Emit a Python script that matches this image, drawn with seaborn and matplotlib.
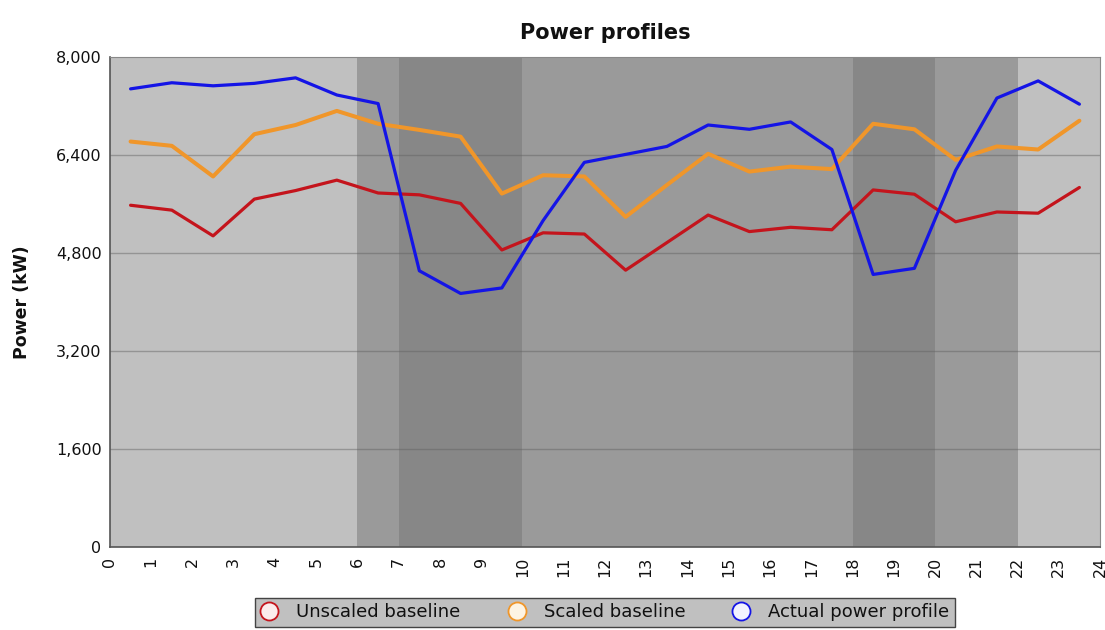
import pandas as pd
import numpy as np
import seaborn as sns
import matplotlib.pyplot as plt
from matplotlib.lines import Line2D

# -------------------------------
#  Datos
# -------------------------------
hours = [h + 0.5 for h in range(24)]

unscaled = [5580, 5500, 5080, 5680, 5820, 5990, 5780, 5750, 5610, 4850, 5130, 5110,
            4520, 4970, 5420, 5150, 5220, 5180, 5830, 5760, 5310, 5470, 5450, 5870]
scaled = [6620, 6550, 6050, 6740, 6890, 7120, 6910, 6810, 6700, 5770, 6070, 6050,
          5390, 5910, 6420, 6130, 6210, 6170, 6910, 6820, 6320, 6540, 6490, 6960]
actual = [7480, 7580, 7530, 7570, 7660, 7380, 7240, 4510, 4140, 4230, 5330, 6280,
          6410, 6540, 6890, 6820, 6940, 6490, 4450, 4550, 6150, 7330, 7610, 7230]

series_names = ["Unscaled baseline", "Scaled baseline", "Actual power profile"]
series_colors = ["#c4141c", "#f0962a", "#1414e6"]
marker_faces = ["#fbecec", "#fdf4e4", "#f2f2ff"]

# franjas de fondo: (inicio, fin, color)
band_edges = [0, 6, 7, 10, 18, 20, 22, 24]
band_colors = ["#c0c0c0", "#9a9a9a", "#878787", "#9a9a9a", "#878787", "#9a9a9a", "#c0c0c0"]

y_ticks = [0, 1600, 3200, 4800, 6400, 8000]
x_ticks = list(range(25))

df = pd.DataFrame({
    "hour": hours * 3,
    "power": unscaled + scaled + actual,
    "series": np.repeat(series_names, 24),
})

# -------------------------------
#  Gráfico
# -------------------------------
sns.set_style("white")
plt.rcParams["font.family"] = ["DejaVu Sans"]
plt.rcParams["text.color"] = "#111111"
plt.rcParams["axes.labelcolor"] = "#111111"

fig = plt.figure(figsize=(11.05, 6.3), dpi=100)
ax = fig.add_axes([0.0995, 0.1317, 0.896, 0.7778])

for i in range(len(band_colors)):
    ax.axvspan(band_edges[i], band_edges[i + 1], color=band_colors[i], lw=0, zorder=0)

sns.lineplot(data=df, x="hour", y="power", hue="series", hue_order=series_names,
             palette=series_colors, linewidth=2.3, legend=False, ax=ax, zorder=3)
# la línea naranja es algo más gruesa en el original
ax.lines[1].set_linewidth(2.9)

for yt in y_ticks[1:-1]:
    ax.axhline(yt, color="#606060", lw=1, alpha=0.45, zorder=1)

ax.set_xlim(0, 24)
ax.set_ylim(0, 8000)
ax.set_yticks(y_ticks)
ax.set_yticklabels([f"{v:,}" for v in y_ticks], fontsize=11.5, color="#111111")
ax.set_xticks(x_ticks)
ax.set_xticklabels([str(v) for v in x_ticks], rotation=90, fontsize=11.5, color="#111111")
ax.tick_params(axis="both", length=0)
ax.tick_params(axis="x", pad=7)
ax.tick_params(axis="y", pad=6)
ax.set_xlabel("")
ax.set_ylabel("Power (kW)", fontsize=12.5, fontweight="bold", labelpad=18)
ax.set_title("Power profiles", fontsize=15, fontweight="bold", pad=13)

for side in ["left", "bottom"]:
    ax.spines[side].set_color("#555555")
    ax.spines[side].set_linewidth(1.2)
for side in ["top", "right"]:
    ax.spines[side].set_color("#888888")
    ax.spines[side].set_linewidth(0.8)

handles = [Line2D([], [], linestyle="none", marker="o", markersize=13,
                  markerfacecolor=f, markeredgecolor=c, markeredgewidth=1.3)
           for c, f in zip(series_colors, marker_faces)]
leg = fig.legend(handles, series_names, loc="upper center", bbox_to_anchor=(0.5475, 0.0508),
                 ncol=3, frameon=True, fancybox=False, fontsize=13,
                 handlelength=1.0, columnspacing=2.6, handletextpad=1.0,
                 borderpad=0.3, borderaxespad=0)
leg.get_frame().set_facecolor("#c0c0c0")
leg.get_frame().set_edgecolor("#444444")
leg.get_frame().set_alpha(1)

fig.savefig("out.png", dpi=100)
